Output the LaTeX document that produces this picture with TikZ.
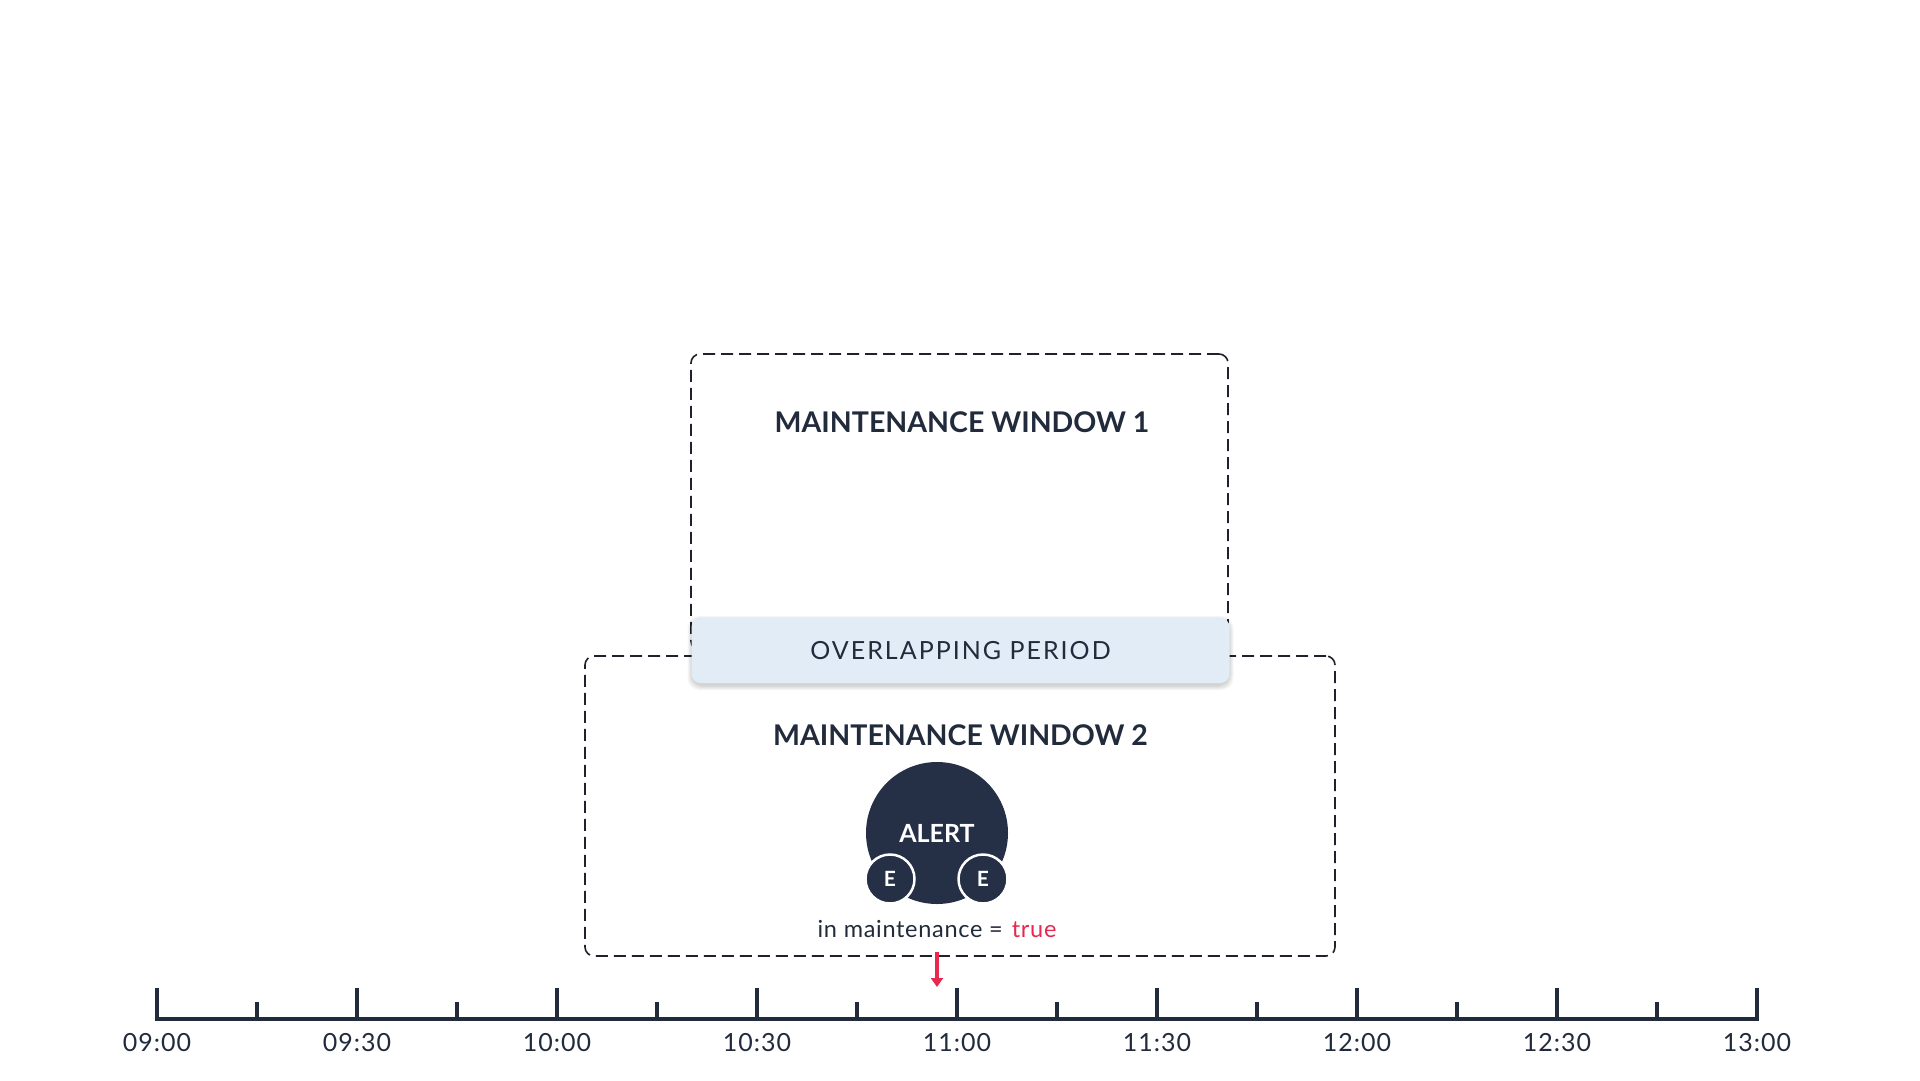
\documentclass[tikz,border=0pt]{standalone}
\usepackage{fontspec}
\setmainfont{Lato}
\newfontfamily\spacedfont[LetterSpace=8]{Lato}
\newfontfamily\timefont[LetterSpace=4]{Lato}
\newfontfamily\labelfont[LetterSpace=3]{Lato}
\usetikzlibrary{arrows.meta}
\definecolor{ink}{HTML}{222B3C}
\definecolor{navy}{HTML}{253047}
\definecolor{overlapfill}{HTML}{E2ECF6}
\definecolor{alertred}{HTML}{E8294F}
\definecolor{dashgray}{HTML}{1E222A}
\begin{document}
\begin{tikzpicture}[x=1pt,y=-1pt,
  windowbox/.style={draw=dashgray, line width=1.6pt, dash pattern=on 12pt off 6pt, rounded corners=9pt, inner sep=0pt},
  titletext/.style={font=\fontsize{28.5}{33}\selectfont\bfseries, text=ink, inner sep=0pt},
  overlapbar/.style={fill=overlapfill, rounded corners=9pt, inner sep=0pt},
  softshadow/.style={fill=black, fill opacity=0.035, rounded corners=12pt, inner sep=0pt},
  bigdot/.style={circle, fill=navy, inner sep=0pt, minimum size=142pt},
  smalldot/.style={circle, fill=navy, draw=white, line width=2.5pt, inner sep=0pt, minimum size=49pt, text=white, font=\fontsize{21}{24}\selectfont\bfseries},
  timelabel/.style={font=\fontsize{25}{29}\selectfont\timefont, text=ink, inner sep=0pt},
  axisline/.style={draw=ink, line width=3.2pt},
  marker/.style={draw=alertred, line width=3.2pt, -{Triangle[length=9pt,width=12pt]}}
]
\useasboundingbox[fill=white] (0,0) rectangle (1920,1080);

% maintenance windows
\node[windowbox, minimum width=537pt, minimum height=296pt] (mw1) at (959.5,502) {};
\node[windowbox, minimum width=750pt, minimum height=300pt] (mw2) at (960,806) {};

% soft shadow of overlapping bar
\foreach \k in {1,...,5} {
  \node[softshadow, minimum width={536pt+2*\k pt}, minimum height={64pt+2*\k pt}] (sh\k) at (960.5,653) {};
}
% overlapping period bar
\node[overlapbar, minimum width=538pt, minimum height=65pt] (ovl) at (960.5,650.5) {};
\node[font=\fontsize{25}{30}\selectfont\spacedfont, text=ink, inner sep=0pt] (ovltext) at (ovl.center) {OVERLAPPING PERIOD};

% titles
\node[titletext] (t1) at (962,422) {MAINTENANCE WINDOW 1};
\node[titletext] (t2) at (960.5,735) {MAINTENANCE WINDOW 2};

% alert
\node[bigdot] (alert) at (937,833) {};
\node[text=white, font=\fontsize{25}{29}\selectfont\bfseries, inner sep=0pt] (alerttext) at (937,833) {ALERT};
\node[smalldot] (e1) at (890,879) {E};
\node[smalldot] (e2) at (983,879) {E};

\node[font=\fontsize{23.5}{28}\selectfont\labelfont, text=ink, inner sep=0pt] (state) at (937,929) {in maintenance =\hspace{9pt}\textcolor{alertred}{true}};

% marker arrow
\coordinate (mstart) at (937,952);
\coordinate (mend) at (937,987);
\draw[marker] (mstart) -- (mend);

% timeline
\coordinate (axL) at (157,1019);
\coordinate (axR) at (1757,1019);
\draw[axisline, line cap=rect] (axL) -- (axR);
\foreach \i in {0,...,8} {
  \draw[axisline] (157+200*\i,1019) -- (157+200*\i,988);
}
\foreach \i in {0,...,7} {
  \draw[axisline] (257+200*\i,1019) -- (257+200*\i,1002);
}
\foreach \i/\lab in {0/09:00,1/09:30,2/10:00,3/10:30,4/11:00,5/11:30,6/12:00,7/12:30,8/13:00} {
  \node[timelabel] (tl\i) at (157+200*\i,1043) {\lab};
}
\end{tikzpicture}
\end{document}
